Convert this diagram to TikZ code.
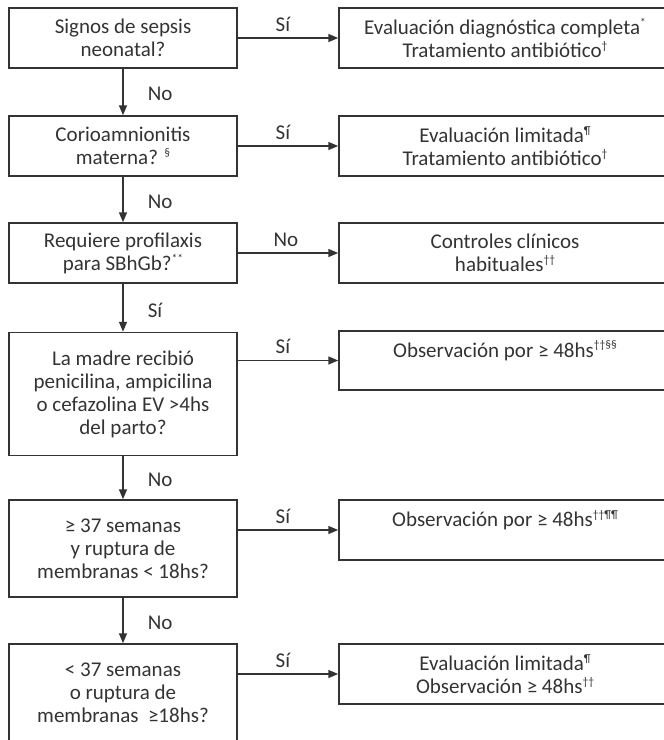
\documentclass[tikz,border=0pt]{standalone}
\usepackage{fontspec}
\setmainfont{Carlito}
\usetikzlibrary{arrows.meta}
\definecolor{ink}{gray}{0.2}
\newcommand{\supx}[1]{\raisebox{0.8ex}{\fontsize{11.5}{11.5}\selectfont #1}}
\begin{document}
\begin{tikzpicture}[x=1pt,y=-1pt,
  box/.style={draw=ink, line width=1.5pt, align=center, text=ink,
    font=\fontsize{21}{23}\selectfont, inner sep=0pt},
  lbox/.style={box, minimum width=228pt},
  rbox/.style={box, minimum width=332pt},
  arr/.style={draw=ink, line width=1.5pt, -{Triangle[length=10pt,width=8pt]}},
  lab/.style={text=ink, font=\fontsize{21}{23}\selectfont, inner sep=0pt}]
\useasboundingbox (0,0) rectangle (664,740);
\clip (0,0) rectangle (664,740);
% left column
\node[lbox, minimum height=60pt] (L1) at (123,38) {Signos de sepsis\\neonatal?};
\node[lbox, minimum height=60pt] (L2) at (123,146) {Corioamnionitis\\materna? \supx{§}};
\node[lbox, minimum height=60pt] (L3) at (123,253) {Requiere profilaxis\\para SBhGb?\supx{**}};
\node[lbox, minimum height=123pt] (L4) at (123,394) {La madre recibió\\penicilina, ampicilina\\o cefazolina EV >4hs\\del parto?};
\node[lbox, minimum height=97pt] (L5) at (123,548.5) {≥ 37 semanas\\y ruptura de\\membranas < 18hs?};
\node[lbox, minimum height=97pt] (L6) at (123,692.5) {< 37 semanas\\o ruptura de\\membranas\ \ ≥18hs?};
% right column
\node[rbox, minimum height=60pt] (R1) at (505,38) {Evaluación diagnóstica completa\supx{*}\\Tratamiento antibiótico\supx{†}};
\node[rbox, minimum height=60pt] (R2) at (505,146) {Evaluación limitada\supx{¶}\\Tratamiento antibiótico\supx{†}};
\node[rbox, minimum height=60pt] (R3) at (505,253) {Controles clínicos\\habituales\supx{††}};
\node[rbox, minimum height=59pt] (R4) at (505,360.5) {Observación por ≥ 48hs\supx{††§§}\\\mbox{}};
\node[rbox, minimum height=60pt] (R5) at (505,530) {Observación por ≥ 48hs\supx{††¶¶}\\\mbox{}};
\node[rbox, minimum height=60pt] (R6) at (505,674) {Evaluación limitada\supx{¶}\\Observación ≥ 48hs\supx{††}};
% horizontal connectors
\draw[arr] (R1.west -| L1.east) -- node[lab, pos=0.45, above=6pt] {Sí} (R1.west);
\draw[arr] (R2.west -| L2.east) -- node[lab, pos=0.45, above=6pt] {Sí} (R2.west);
\draw[arr] (R3.west -| L3.east) -- node[lab, pos=0.48, above=6pt] {No} (R3.west);
\draw[arr] (R4.west -| L4.east) -- node[lab, pos=0.45, above=6pt] {Sí} (R4.west);
\draw[arr] (R5.west -| L5.east) -- node[lab, pos=0.45, above=6pt] {Sí} (R5.west);
\draw[arr] (R6.west -| L6.east) -- node[lab, pos=0.45, above=6pt] {Sí} (R6.west);
% vertical connectors
\draw[arr] (L1) -- node[lab, pos=0.55, right=24pt] {No} (L2);
\draw[arr] (L2) -- node[lab, pos=0.55, right=24pt] {No} (L3);
\draw[arr] (L3) -- node[lab, pos=0.55, right=24pt] {Sí} (L4);
\draw[arr] (L4) -- node[lab, pos=0.55, right=24pt] {No} (L5);
\draw[arr] (L5) -- node[lab, pos=0.55, right=24pt] {No} (L6);
\end{tikzpicture}
\end{document}
